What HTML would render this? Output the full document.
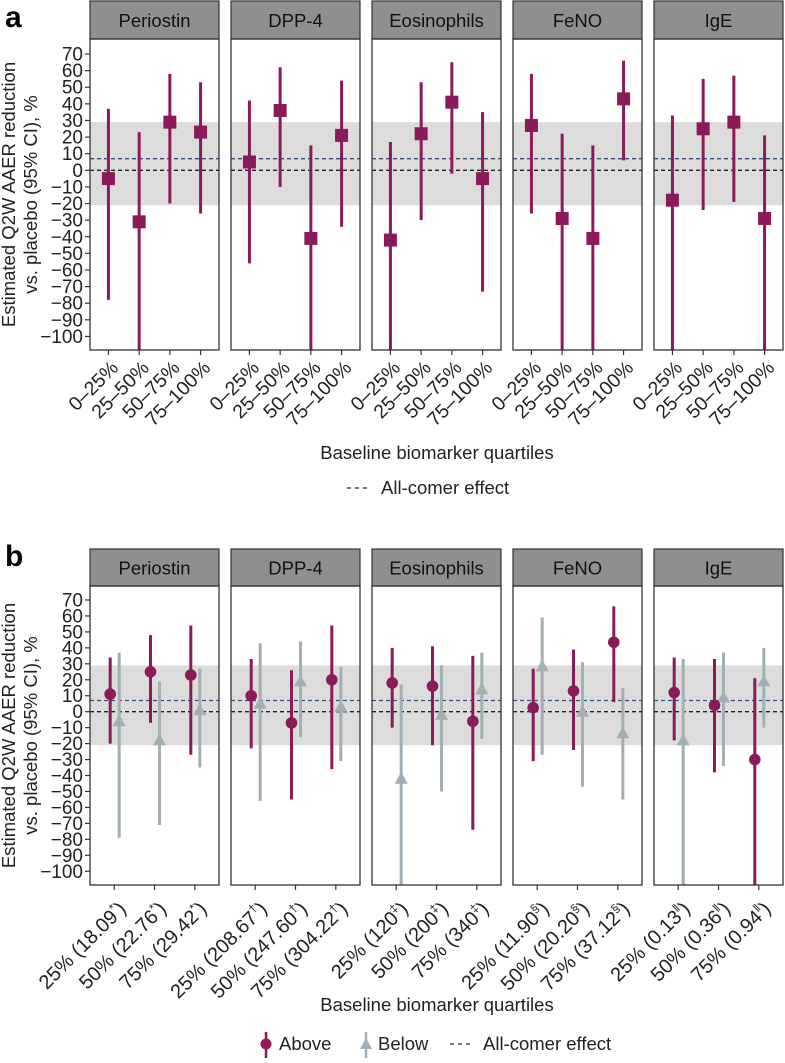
<!DOCTYPE html>
<html><head><meta charset="utf-8">
<style>
html,body{margin:0;padding:0;background:#fff;}
svg{display:block;font-family:"Liberation Sans",Arial,sans-serif;}
</style></head>
<body>
<svg id="fig" width="785" height="1063" viewBox="0 0 785 1063" xmlns="http://www.w3.org/2000/svg">
<text x="5" y="27" font-size="30" font-weight="bold">a</text>
<text x="5" y="566" font-size="30" font-weight="bold">b</text>
<g id="A"></g>
<g id="B"></g>
<text x="437" y="459" font-size="18.5" text-anchor="middle" fill="#222">Baseline biomarker quartiles</text>
<line x1="347" y1="488" x2="371" y2="488" stroke="#3b5378" stroke-width="1.6" stroke-dasharray="4,4"/>
<text x="381" y="494" font-size="18.5" fill="#222">All-comer effect</text>
<text x="437" y="1011" font-size="18.5" text-anchor="middle" fill="#222">Baseline biomarker quartiles</text>
<g>
<line x1="266" y1="1032" x2="266" y2="1058" stroke="#8b1a5b" stroke-width="2.5"/>
<circle cx="266" cy="1044" r="5.5" fill="#8b1a5b"/>
<text x="279" y="1050" font-size="18.5" fill="#222">Above</text>
<line x1="366" y1="1032" x2="366" y2="1058" stroke="#a3afb4" stroke-width="2.5"/>
<polygon points="360,1049 372,1049 366,1038" fill="#a3afb4"/>
<text x="378" y="1050" font-size="18.5" fill="#222">Below</text>
<line x1="450" y1="1044" x2="474" y2="1044" stroke="#3b5378" stroke-width="1.6" stroke-dasharray="4,4"/>
<text x="483" y="1050" font-size="18.5" fill="#222">All-comer effect</text>
</g>
</svg>
<script>
const panels = ["Periostin","DPP-4","Eosinophils","FeNO","IgE"];
const yTicks = [70,60,50,40,30,20,10,0,-10,-20,-30,-40,-50,-60,-70,-80,-90,-100];
const allComer = 7;
const shadeLow = -21, shadeHigh = 29;
const catsA = ["0–25%","25–50%","50–75%","75–100%"];
const estA = [[-5,-31,29,23],[5,36,-41,21],[-42,22,41,-5],[27,-29,-41,43],[-18,25,29,-29]];
const lowA = [[-78,-120,-20,-26],[-56,-10,-120,-34],[-120,-30,-2,-73],[-26,-120,-120,6],[-120,-24,-19,-120]];
const highA = [[37,23,58,53],[42,62,15,54],[17,53,65,35],[58,22,15,66],[33,55,57,21]];
const catsB = [
 ["25% (18.09","50% (22.76","75% (29.42"],
 ["25% (208.67","50% (247.60","75% (304.22"],
 ["25% (120","50% (200","75% (340"],
 ["25% (11.90","50% (20.20","75% (37.12"],
 ["25% (0.13","50% (0.36","75% (0.94"]];
const supB = ["*","†","‡","§","‖"];
const aboveEst = [[11,25,23],[10,-7,20],[18,16,-6],[2.5,13,43.5],[12,4,-30]];
const aboveLow = [[-20,-7,-27],[-23,-55,-36],[-10,-21,-74],[-31,-24,6],[-18,-38,-120]];
const aboveHigh = [[34,48,54],[33,26,54],[40,41,35],[27,39,66],[34,33,21]];
const belowEst = [[-6,-18,1],[5,19,3],[-42,-2,14],[28.5,0,-13.5],[-18,9,19]];
const belowLow = [[-79,-71,-35],[-56,-16,-31],[-120,-50,-17],[-27,-47,-55],[-120,-34,-10]];
const belowHigh = [[37,19,27],[43,44,28],[17,29,37],[59,31,15],[33,37,40]];

const NS="http://www.w3.org/2000/svg";
const MAROON="#8b1a5b", GREY="#a3afb4";
function mk(parent,tag,attrs){const e=document.createElementNS(NS,tag);for(const k in attrs)e.setAttribute(k,attrs[k]);parent.appendChild(e);return e;}

function drawPanel(g, cfg){
  const per = (cfg.y0-cfg.y70)/70;
  const Y = v => cfg.y0 - v*per;
  const clipY = v => Math.min(cfg.plotBot, Math.max(cfg.stripBot, Y(v)));
  yTicks.forEach(t=>{
    const l=mk(g,'line',{x1:85,x2:90,y1:Y(t),y2:Y(t),stroke:'#333','stroke-width':1.2});
    
    
    const tx=mk(g,'text',{x:83,y:Y(t)+6.5,'font-size':19,'text-anchor':'end',fill:'#222'});
    tx.textContent = t<0 ? '−'+Math.abs(t) : String(t);
    
    
  });
  const midY=(cfg.stripBot+cfg.plotBot)/2;
  const t1=mk(g,'text',{x:0,y:0,'font-size':18.5,'text-anchor':'middle',fill:'#222',transform:`translate(15,${midY}) rotate(-90)`});
  t1.textContent='Estimated Q2W AAER reduction';
  
  
  const t2=mk(g,'text',{x:0,y:0,'font-size':18.5,'text-anchor':'middle',fill:'#222',transform:`translate(37,${midY}) rotate(-90)`});
  t2.textContent='vs. placebo (95% CI), %';
  
  

  panels.forEach((name,p)=>{
    const L = 90 + p*141, W=129;
    const pg=mk(g,'g',{});
    
    
    const sr=mk(pg,'rect',{x:L,y:cfg.stripTop,width:W,height:cfg.stripBot-cfg.stripTop,fill:'#8f8f8f',stroke:'#333','stroke-width':1.2});
    
    
    const st=mk(pg,'text',{x:L+W/2,y:(cfg.stripTop+cfg.stripBot)/2+7,'font-size':18.5,'text-anchor':'middle',fill:'#111'});
    st.textContent=name;
    
    
    const sh=mk(pg,'rect',{x:L,y:Y(shadeHigh),width:W,height:Y(shadeLow)-Y(shadeHigh),fill:'#dcdcdc'});
    
    
    const ac=mk(pg,'line',{x1:L,x2:L+W,y1:Y(allComer),y2:Y(allComer),stroke:'#3b5378','stroke-width':1.3,'stroke-dasharray':'4,3'});
    
    
    const z=mk(pg,'line',{x1:L,x2:L+W,y1:Y(0),y2:Y(0),stroke:'#222','stroke-width':1.3,'stroke-dasharray':'4,3'});
    
    
    cfg.draw(pg,p,L,W,Y,clipY);
    const fr=mk(pg,'rect',{x:L,y:cfg.stripBot,width:W,height:cfg.plotBot-cfg.stripBot,fill:'none',stroke:'#333','stroke-width':1.3});
    
    
  });
}

function xTick(pg,x,y,label,dx,dy,fs,sup){
  const tk=mk(pg,'line',{x1:x,x2:x,y1:y,y2:y+5,stroke:'#333','stroke-width':1.2});
  
  
  const t=mk(pg,'text',{x:0,y:0,'font-size':fs,'text-anchor':'end',fill:'#222',transform:`translate(${x+dx},${y+dy}) rotate(-45)`});
  
  
  if(sup){
    const a=mk(t,'tspan',{}); a.textContent=label;
    const s=mk(t,'tspan',{'font-size':12,dy:-8}); s.textContent=sup;
    const c=mk(t,'tspan',{dy:8}); c.textContent=')';
  } else t.textContent=label;
}

drawPanel(document.getElementById('A'),{stripTop:1,stripBot:39,plotBot:350,y70:54,y0:170.3,
  draw:(pg,p,L,W,Y,clipY)=>{
    const step=W/4.2;
    catsA.forEach((c,i)=>{
      const x=L+(i+0.6)*step;
      const e=mk(pg,'line',{x1:x,x2:x,y1:clipY(lowA[p][i]),y2:clipY(highA[p][i]),stroke:MAROON,'stroke-width':3});
      
      
      const s=mk(pg,'rect',{x:x-6.5,y:Y(estA[p][i])-6.5,width:13,height:13,fill:MAROON});
      
      
      xTick(pg,x,350,c,11,19,19.5,null);
    });
  }});

drawPanel(document.getElementById('B'),{stripTop:549,stripBot:586,plotBot:885,y70:600,y0:711.7,
  draw:(pg,p,L,W,Y,clipY)=>{
    const step=W/3.2;
    catsB[p].forEach((c,i)=>{
      const x=L+(i+0.6)*step;
      const xb=x+5, xa=x-4;
      const eb=mk(pg,'line',{x1:xb,x2:xb,y1:clipY(belowLow[p][i]),y2:clipY(belowHigh[p][i]),stroke:GREY,'stroke-width':3});
      
      
      const yb=Y(belowEst[p][i]);
      const tr=mk(pg,'polygon',{points:`${xb-6.5},${yb+5} ${xb+6.5},${yb+5} ${xb},${yb-7}`,fill:GREY});
      
      
      const ea=mk(pg,'line',{x1:xa,x2:xa,y1:clipY(aboveLow[p][i]),y2:clipY(aboveHigh[p][i]),stroke:MAROON,'stroke-width':3});
      
      
      const ci=mk(pg,'circle',{cx:xa,cy:Y(aboveEst[p][i]),r:5.8,fill:MAROON});
      
      
      xTick(pg,x,885,c,13,25,20,supB[p]);
    });
  }});
</script>
</body></html>
